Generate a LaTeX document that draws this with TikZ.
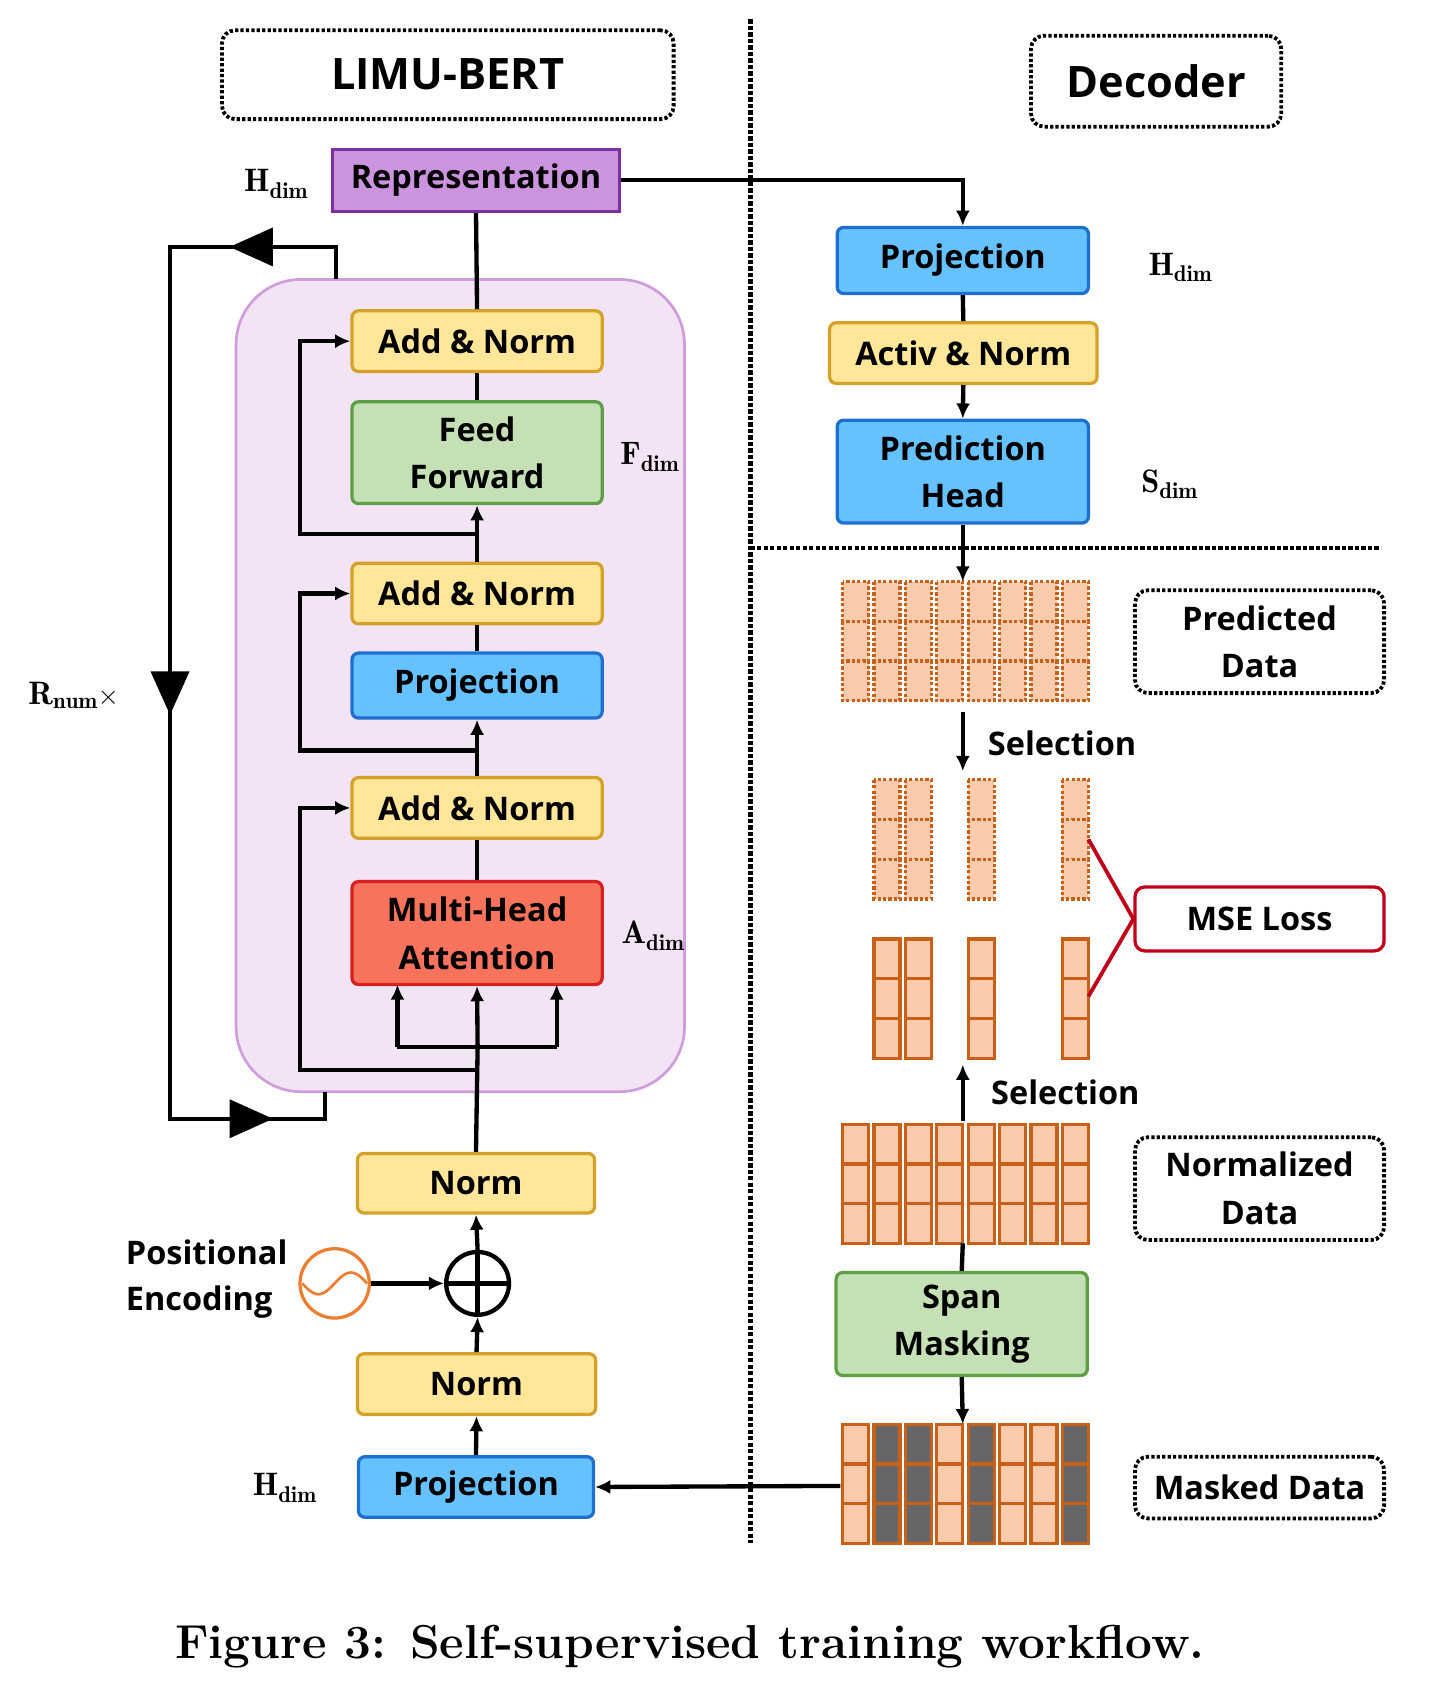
\documentclass[tikz,border=0pt]{standalone}
\usepackage{fontspec}
\newfontfamily\osans{Open Sans}
\usetikzlibrary{arrows.meta}
\definecolor{yfill}{HTML}{FFE699}\definecolor{ydraw}{HTML}{D4A22A}
\definecolor{bfill}{HTML}{66C2FF}\definecolor{bdraw}{HTML}{1F6FD0}
\definecolor{gfill}{HTML}{C5E0B4}\definecolor{gdraw}{HTML}{5E9E45}
\definecolor{rfill}{HTML}{F7735C}\definecolor{rdraw}{HTML}{D92020}
\definecolor{pfill}{HTML}{CC93DE}\definecolor{pdraw}{HTML}{7D2F9E}
\definecolor{pink}{HTML}{F3E4F5}\definecolor{pinkd}{HTML}{CF9DDB}
\definecolor{ofill}{HTML}{F8CBAD}\definecolor{odraw}{HTML}{C9601A}
\definecolor{mse}{HTML}{C00018}
\begin{document}
\begin{tikzpicture}[x=1pt,y=-1pt,
  box/.style={draw,line width=3pt,rounded corners=6pt,align=center,
    font=\osans\bfseries\fontsize{30}{44}\selectfont,inner sep=0pt},
  ybox/.style={box,fill=yfill,draw=ydraw},
  bbox/.style={box,fill=bfill,draw=bdraw},
  gbox/.style={box,fill=gfill,draw=gdraw},
  dbox/.style={box,draw=black,dotted,line width=3.5pt,rounded corners=12pt},
  lbl/.style={font=\fontsize{30}{36}\selectfont},
  ln/.style={line width=4pt},
  ar/.style={line width=4pt,-{Latex[length=14pt,width=13pt]}},
  txt/.style={font=\osans\bfseries\fontsize{30}{36}\selectfont,inner sep=0pt}]
\useasboundingbox (0,0) rectangle (1330,1566);
% separators
\draw[line width=4pt,dotted] (693,18) -- (693,1425);
\draw[line width=4pt,dotted] (693,506) -- (1275,506);
% headers
\node[dbox,minimum width=417pt,minimum height=82pt,font=\osans\bfseries\fontsize{40}{48}\selectfont] (limu) at (413.5,69) {LIMU-BERT};
\node[dbox,minimum width=231pt,minimum height=84pt,font=\osans\bfseries\fontsize{40}{48}\selectfont] (dec) at (1067.5,75) {Decoder};
% pink region
\node[draw=pinkd,fill=pink,line width=2.5pt,rounded corners=60pt,minimum width=414pt,minimum height=750pt] (blk) at (425,633) {};
% left column
\node[box,fill=pfill,draw=pdraw,minimum width=265pt,minimum height=57pt,rounded corners=0pt] (rep) at (439.5,166.5) {Representation};
\node[ybox,minimum width=231pt,minimum height=56pt] (an1) at (440.5,315) {Add \& Norm};
\node[gbox,minimum width=231pt,minimum height=94pt] (ff) at (440.5,418) {Feed\\Forward};
\node[ybox,minimum width=231pt,minimum height=56pt] (an2) at (440.5,548) {Add \& Norm};
\node[bbox,minimum width=231pt,minimum height=60pt] (pj) at (440.5,633) {Projection};
\node[ybox,minimum width=231pt,minimum height=56pt] (an3) at (440.5,746) {Add \& Norm};
\node[box,fill=rfill,draw=rdraw,minimum width=231pt,minimum height=95pt] (mha) at (440.5,861.5) {Multi-Head\\Attention};
\node[ybox,minimum width=219pt,minimum height=55pt] (n1) at (439.5,1092.5) {Norm};
\node[ybox,minimum width=220pt,minimum height=56pt] (n2) at (440,1278) {Norm};
\node[bbox,minimum width=217pt,minimum height=56pt] (pin) at (439.5,1373) {Projection};
\node[circle,draw=black,line width=4pt,minimum size=58pt,inner sep=0pt] (plus) at (441,1185) {};
\draw[line width=4pt] (plus.north) -- (plus.south) (plus.west) -- (plus.east);
\node[circle,draw={rgb,255:red,237;green,125;blue,49},line width=3pt,minimum size=64pt,inner sep=0pt] (pe) at (309,1185) {};
\draw[line width=2.5pt,color={rgb,255:red,237;green,125;blue,49}] plot[domain=-30:30,samples=40] ({309+\x},{1185-10*sin(\x*6)});
\node[txt,align=left,anchor=west,font=\osans\bfseries\fontsize{30}{43}\selectfont] (petxt) at (116,1181) {Positional\\Encoding};
% labels
\node[lbl] (hd1) at (255,170) {$\mathbf{H}_{\mathbf{dim}}$};
\node[lbl] (fd) at (600,422) {$\mathbf{F}_{\mathbf{dim}}$};
\node[lbl] (ad) at (603,864) {$\mathbf{A}_{\mathbf{dim}}$};
\node[lbl] (hd2) at (263,1374) {$\mathbf{H}_{\mathbf{dim}}$};
\node[lbl] (rn) at (68,642) {$\mathbf{R}_{\mathbf{num}}\times$};
% left connectors
\draw[ln] (rep.south) -- (an1.north);
\draw[ln] (an1.south) -- (ff.north);
\draw[ar] (an2.north) -- (ff.south);
\draw[ar] (441,493) -| (277,315) -- (an1.west);
\draw[ln] (an2.south) -- (pj.north);
\draw[ar] (an3.north) -- (pj.south);
\draw[ar] (441,693) -| (277,548) -- (an2.west);
\draw[ln] (an3.south) -- (mha.north);
\draw[ln] (n1.north) -- (441,967);
\draw[ar] (441,967) -- (mha.south);
\draw[ar] (367,967) -- (367,909);
\draw[ar] (514,967) -- (514,909);
\draw[ln] (367,967) -- (514,967);
\draw[ar] (441,988) -| (277,746) -- (an3.west);
\draw[ar] (plus.north) -- (n1.south);
\draw[ar] (n2.north) -- (plus.south);
\draw[ar] (pin.north) -- (n2.south);
\draw[ar] (pe.east) -- (plus.west);
% loop
\draw[ln] (310,258) -- (310,228) -- (157,228) -- (157,1033) -- (300,1033) -- (300,1008);
\fill (212,228) -- (252,210) -- (252,246) -- cycle;
\fill (157,660) -- (139,620) -- (175,620) -- cycle;
\fill (252,1033) -- (212,1015) -- (212,1051) -- cycle;
% decoder
\node[bbox,minimum width=232pt,minimum height=61pt] (dpj) at (889,240.5) {Projection};
\node[ybox,minimum width=247pt,minimum height=56pt] (act) at (889.5,326) {Activ \& Norm};
\node[bbox,minimum width=232pt,minimum height=95pt] (ph) at (889,435.5) {Prediction\\Head};
\node[lbl] (hd3) at (1090,247) {$\mathbf{H}_{\mathbf{dim}}$};
\node[lbl] (sd) at (1080,447) {$\mathbf{S}_{\mathbf{dim}}$};
\draw[ar] (rep.east) -| (dpj.north);
\draw[ln] (dpj.south) -- (act.north);
\draw[ar] (act.south) -- (ph.north);
% grids
\newcommand{\gcol}[4]{% x, ytop, style, fill
  \foreach \r in {0,1,2}{\draw[#3,fill=#4,line width=3pt] (#1,#2+\r*36.7) rectangle (#1+24,#2+\r*36.7+36.7);}}
\foreach \c in {0,...,7}{\gcol{778+29*\c}{537}{draw=odraw,dotted}{ofill}}
\foreach \c in {1,2,4,7}{\gcol{778+29*\c}{720}{draw=odraw,dotted}{ofill}}
\foreach \c in {1,2,4,7}{\gcol{778+29*\c}{867}{draw=odraw}{ofill}}
\foreach \c in {0,...,7}{\gcol{778+29*\c}{1038}{draw=odraw}{ofill}}
\foreach \c in {0,3,5,6}{\gcol{778+29*\c}{1315}{draw=odraw}{ofill}}
\foreach \c in {1,2,4,7}{\gcol{778+29*\c}{1315}{draw=odraw}{black!60}}
\coordinate (pgt) at (889,537);
\coordinate (ngb) at (889,1148);
\coordinate (mgt) at (889,1315);
\coordinate (mgl) at (776,1372);
\draw[ar] (ph.south) -- (pgt);
\draw[ar] (889,657) -- (889,712);
\node[txt,anchor=west] (sel1) at (912,686) {Selection};
\draw[ar] (889,1035) -- (889,983);
\node[txt,anchor=west] (sel2) at (915,1009) {Selection};
\node[gbox,minimum width=232pt,minimum height=95pt] (span) at (888,1222.5) {Span\\Masking};
\draw[ln] (ngb) -- (span.north);
\draw[ar] (span.south) -- (mgt);
\draw[ar] (mgl) -- (pin.east);
% side boxes
\node[dbox,minimum width=230pt,minimum height=95pt] (pd) at (1163,592.5) {Predicted\\Data};
\node[dbox,minimum width=230pt,minimum height=95pt] (nd) at (1163,1097.5) {Normalized\\Data};
\node[dbox,minimum width=230pt,minimum height=57pt] (md) at (1163,1373.5) {Masked Data};
\node[box,draw=mse,fill=white,minimum width=230pt,minimum height=59pt,rounded corners=9pt] (mse) at (1163,848.5) {MSE Loss};
\draw[mse,line width=3.5pt] (1005,775) -- (mse.west) -- (1005,920);
% caption
\node[font=\bfseries\fontsize{44}{50}\selectfont] (cap) at (637,1520) {Figure 3: Self-supervised training workflow.};
\end{tikzpicture}
\end{document}
